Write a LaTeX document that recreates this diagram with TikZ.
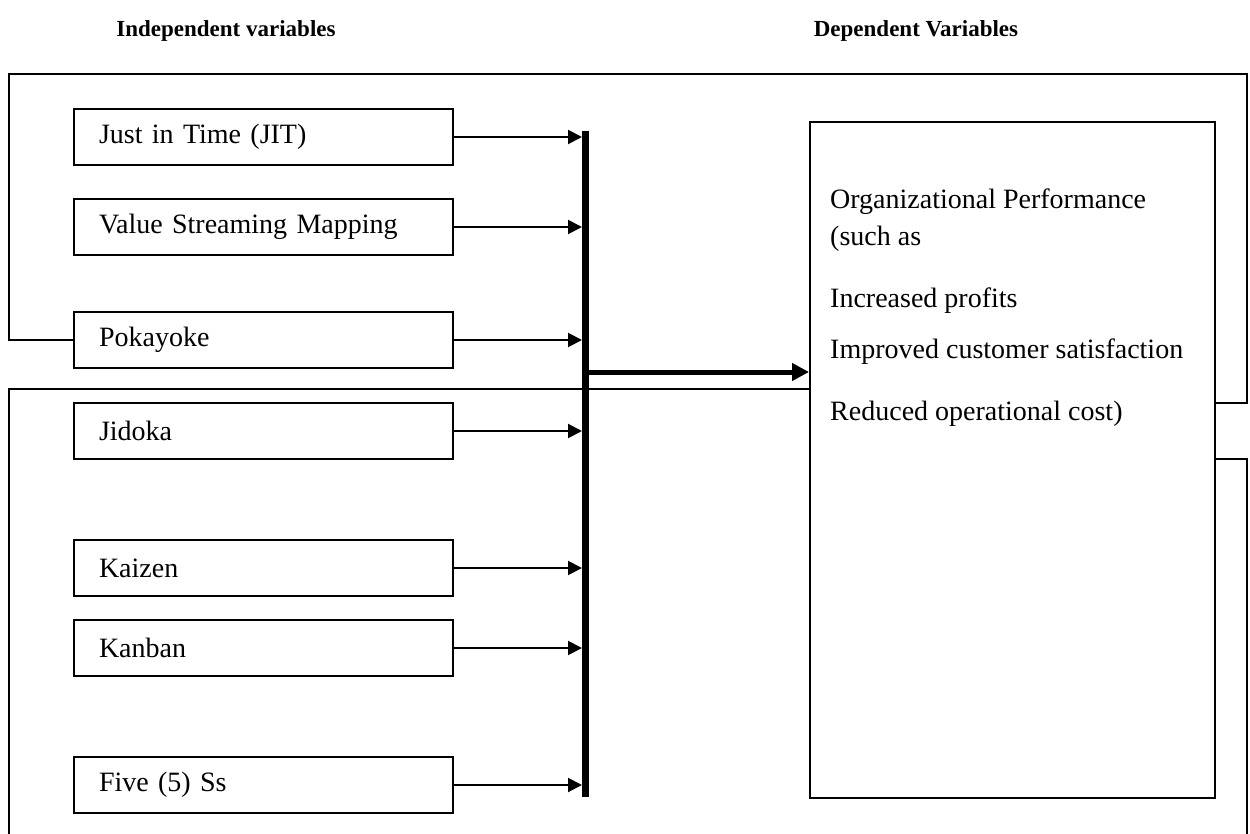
\documentclass[tikz,border=0pt]{standalone}
\usepackage{fontspec}
\setmainfont{Liberation Serif}
\usetikzlibrary{arrows.meta,positioning}
\tikzset{
	varbox/.style={draw, line width=2pt, anchor=west, minimum width=379pt, minimum height=56pt,
		text width=329pt, inner xsep=25pt, align=left, font=\fontsize{28}{32}\selectfont},
	feed/.style={line width=2pt, -{Triangle[length=14pt,width=14pt]}},
	frameline/.style={line width=2pt},
	head/.style={font=\bfseries\fontsize{23}{28}\selectfont}
}
\begin{document}
\begin{tikzpicture}[x=1pt,y=-1pt]
	\useasboundingbox (0,0) rectangle (1250,834);

	\node[head] (indep) at (226,31) {Independent variables};
	\node[head] (depvar) at (916,31) {Dependent Variables};

	\node[varbox] (jit) at (73,137) {Just in Time (JIT)};
	\node[varbox] (vsm) at (73,227) {Value Streaming Mapping};
	\node[varbox] (poka) at (73,340) {Pokayoke};
	\node[varbox] (jidoka) at (73,431) {Jidoka};
	\node[varbox] (kaizen) at (73,568) {Kaizen};
	\node[varbox] (kanban) at (73,648) {Kanban};
	\node[varbox] (five) at (73,785) {Five (5) Ss};

	\node[draw, line width=2pt, anchor=north west, minimum width=405pt, minimum height=676pt] (perf) at (809,121) {};
	\node[anchor=north west, inner sep=0pt, align=left, font=\fontsize{28}{37}\selectfont]
		(perftext) at ([xshift=21pt, yshift=-68pt]perf.north west)
		{Organizational Performance\\(such as\\[25pt]Increased profits\\[14pt]Improved customer satisfaction\\[25pt]Reduced operational cost)};

	% collecting bar
	\coordinate (bartop) at (585,131);
	\coordinate (barbot) at (585,797);
	\coordinate (barin) at (582,131);
	\coordinate (join) at (585,372);
	\draw[line width=7pt] (bartop) -- (barbot);

	\foreach \v in {jit,vsm,poka,jidoka,kaizen,kanban,five}
		\draw[feed] (\v.east) -- (\v.east -| barin);

	\draw[line width=5pt, -{Triangle[length=17pt,width=17pt]}] (join) -- (join -| perf.west);

	% frames
	\draw[frameline] (poka.west) -- (9,340) -- (9,74) -- (1247,74) -- (1247,403) -- (perf.east |- 0,403);
	\draw[frameline] (perf.west |- 0,389) -- (9,389) -- (9,834);
	\draw[frameline] (perf.east |- 0,459) -- (1247,459) -- (1247,834);
\end{tikzpicture}
\end{document}
